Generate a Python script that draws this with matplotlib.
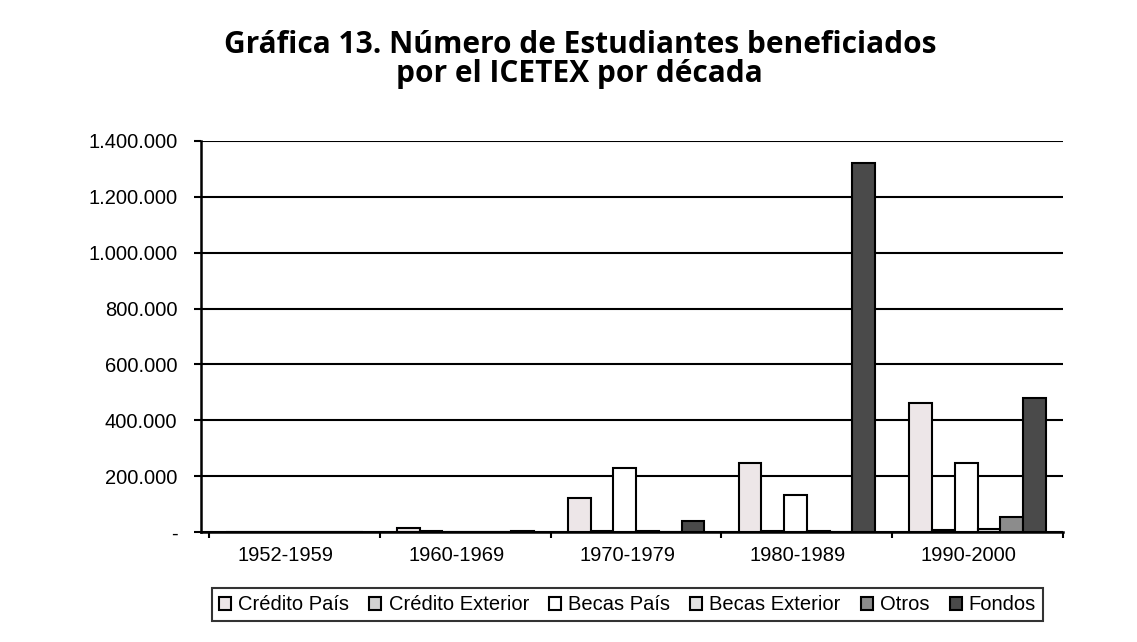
import numpy as np
import matplotlib
matplotlib.use('Agg')
import matplotlib.pyplot as plt
import matplotlib.transforms as mtransforms
from matplotlib.ticker import FuncFormatter

# Decades and beneficiaries per programme
decadas = ['1952-1959', '1960-1969', '1970-1979', '1980-1989', '1990-2000']
credito_pais = [0, 14000, 121000, 246000, 463000]
credito_exterior = [0, 5000, 5000, 5000, 8000]
becas_pais = [0, 0, 228000, 131000, 246000]
becas_exterior = [0, 0, 4000, 3000, 12000]
otros = [0, 0, 0, 0, 54000]
fondos = [0, 5000, 39000, 1320000, 481000]

series = [
    ('Crédito País', credito_pais, '#ede6e8'),
    ('Crédito Exterior', credito_exterior, '#d2d2d2'),
    ('Becas País', becas_pais, '#ffffff'),
    ('Becas Exterior', becas_exterior, '#e2e2e2'),
    ('Otros', otros, '#8c8c8c'),
    ('Fondos', fondos, '#4a4a4a'),
]

plt.rcParams['font.family'] = ['Liberation Sans', 'DejaVu Sans']

fig = plt.figure(figsize=(11.37, 6.42), dpi=100)
ax = fig.add_axes([0.1768, 0.1713, 0.7582, 0.6091])

x = np.arange(len(decadas))
w = 0.8 / len(series)
for i, (name, vals, col) in enumerate(series):
    ax.bar(x - 0.4 + w * (i + 0.5), vals, w, color=col, edgecolor='black',
           linewidth=1.5, label=name, zorder=3)

ax.set_ylim(0, 1400000)
ax.set_xlim(-0.547, 4.5)
ax.set_yticks(np.arange(0, 1400001, 200000))
ax.yaxis.set_major_formatter(FuncFormatter(
    lambda v, p: '-' if v == 0 else f'{int(v):,}'.replace(',', '.')))
ax.grid(True, axis='y', color='black', linewidth=1.5, zorder=1)

# category ticks between groups, labels centred on groups
ax.set_xticks(np.arange(-0.5, 5, 1.0))
ax.set_xticklabels([])
ax.set_xticks(x, minor=True)
ax.set_xticklabels(decadas, minor=True)
ax.tick_params(axis='x', which='minor', length=0, pad=10, labelsize=14.5)
ax.tick_params(axis='x', which='major', length=4, width=1.5, direction='out')
ax.tick_params(axis='y', length=5, width=1.5, direction='out', labelsize=14.5, pad=12)

# the printed chart has its decade labels a little left of the bar groups
shift = mtransforms.ScaledTranslation(-9 / 100, 0, fig.dpi_scale_trans)
for lab in ax.get_xticklabels(minor=True):
    lab.set_transform(lab.get_transform() + shift)

for s in ['top', 'right']:
    ax.spines[s].set_visible(False)
for s in ['left', 'bottom']:
    ax.spines[s].set_linewidth(1.8)

leg = fig.legend(loc='center', bbox_to_anchor=(0.552, 0.058), ncol=6,
                 fontsize=14.5, frameon=True, fancybox=False,
                 handlelength=0.6, handleheight=0.6, handletextpad=0.35,
                 columnspacing=1.0, borderpad=0.35)
leg.get_frame().set_edgecolor('black')
leg.get_frame().set_linewidth(1.5)

fig.text(0.51, 0.93, 'Gráfica 13. Número de Estudiantes beneficiados',
         ha='center', va='center', fontsize=21.5, fontweight='bold',
         family=['Open Sans', 'DejaVu Sans'])
fig.text(0.51, 0.885, 'por el ICETEX por década',
         ha='center', va='center', fontsize=21.5, fontweight='bold',
         family=['Open Sans', 'DejaVu Sans'])

fig.savefig('out.png', dpi=100, facecolor='white')
